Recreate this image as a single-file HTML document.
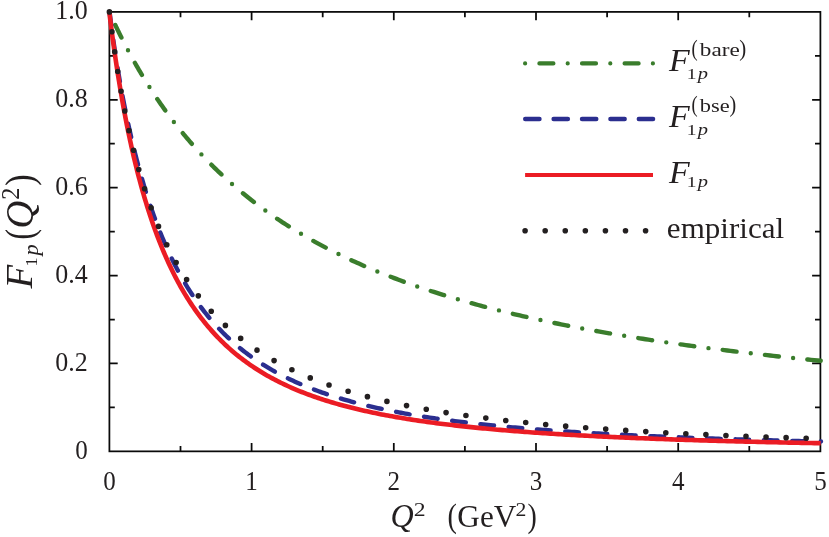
<!DOCTYPE html><html><head><meta charset="utf-8"><title>F1p</title><style>html,body{margin:0;padding:0;background:#fff}svg{display:block;will-change:transform}text{font-family:"Liberation Serif",serif;fill:#231f20}</style></head><body>
<svg width="829" height="537" viewBox="0 0 829 537">
<rect width="829" height="537" fill="#fff"/>
<g stroke="#0a0a0a" stroke-width="1.75" fill="none">
<rect x="109.40" y="11.90" width="711.00" height="439.45"/>
<path d="M180.50 11.90v5.4M180.50 451.35v-5.4M251.60 11.90v8.3M251.60 451.35v-8.3M322.70 11.90v5.4M322.70 451.35v-5.4M393.80 11.90v8.3M393.80 451.35v-8.3M464.90 11.90v5.4M464.90 451.35v-5.4M536.00 11.90v8.3M536.00 451.35v-8.3M607.10 11.90v5.4M607.10 451.35v-5.4M678.20 11.90v8.3M678.20 451.35v-8.3M749.30 11.90v5.4M749.30 451.35v-5.4M109.40 407.41h5.4M820.40 407.41h-5.4M109.40 363.46h8.3M820.40 363.46h-8.3M109.40 319.51h5.4M820.40 319.51h-5.4M109.40 275.57h8.3M820.40 275.57h-8.3M109.40 231.62h5.4M820.40 231.62h-5.4M109.40 187.68h8.3M820.40 187.68h-8.3M109.40 143.73h5.4M820.40 143.73h-5.4M109.40 99.79h8.3M820.40 99.79h-8.3M109.40 55.84h5.4M820.40 55.84h-5.4"/>
</g>
<g fill="none" stroke-linecap="round" stroke-linejoin="round">
<path d="M109.30 12.00 L109.31 12.03 L109.35 12.11 L109.41 12.24 L109.48 12.40 L109.57 12.60 L109.67 12.83 L109.79 13.09 L109.93 13.39 L110.07 13.72 L110.23 14.07 L110.41 14.46 L110.60 14.87 L110.80 15.32 L111.01 15.79 L111.24 16.28 L111.48 16.81 L111.73 17.35 L111.99 17.93 L112.27 18.52 L112.55 19.14 L112.85 19.79 L113.16 20.46 L113.48 21.15 L113.82 21.86 L114.16 22.59 L114.52 23.35 L114.88 24.13 L115.26 24.93 L115.65 25.74 L116.05 26.58 L116.46 27.44 L116.88 28.31 L117.31 29.21 L117.75 30.12 L118.21 31.05 L118.67 32.00 L119.14 32.97 L119.63 33.95 L120.12 34.95 L120.63 35.96 L121.14 36.99 L121.67 38.04 L122.20 39.10 L122.75 40.18 L123.30 41.27 L123.87 42.37 L124.44 43.49 L125.03 44.62 L125.62 45.76 L126.22 46.92 L126.84 48.09 L127.46 49.27 L128.10 50.46 L128.74 51.67 L129.39 52.88 L130.05 54.11 L130.73 55.34 L131.41 56.59 L132.10 57.84 L132.80 59.11 L133.51 60.38 L134.23 61.67 L134.96 62.96 L135.69 64.26 L136.44 65.57 L137.20 66.89 L137.96 68.21 L138.74 69.54 L139.52 70.88 L140.31 72.22 L141.11 73.57 L141.93 74.93 L142.75 76.30 L143.58 77.66 L144.41 79.04 L145.26 80.42 L146.12 81.80 L146.98 83.19 L147.86 84.58 L148.74 85.98 L149.63 87.38 L150.53 88.79 L151.44 90.20 L152.36 91.61 L153.29 93.02 L154.22 94.44 L155.17 95.86 L156.12 97.28 L157.08 98.71 L158.05 100.13 L159.03 101.56 L160.02 102.99 L161.02 104.43 L162.02 105.86 L163.04 107.29 L164.06 108.73 L165.09 110.16 L166.13 111.60 L167.18 113.04 L168.23 114.47 L169.30 115.91 L170.37 117.35 L171.45 118.78 L172.54 120.22 L173.64 121.65 L174.75 123.09 L175.87 124.52 L176.99 125.95 L178.12 127.38 L179.26 128.81 L180.41 130.24 L181.57 131.67 L182.74 133.09 L183.91 134.52 L185.09 135.94 L186.28 137.36 L187.48 138.77 L188.69 140.19 L189.90 141.60 L191.13 143.01 L192.36 144.42 L193.60 145.82 L194.84 147.22 L196.10 148.62 L197.36 150.01 L198.64 151.41 L199.92 152.79 L201.21 154.18 L202.50 155.56 L203.81 156.94 L205.12 158.31 L206.44 159.69 L207.77 161.05 L209.10 162.42 L210.45 163.78 L211.80 165.13 L213.16 166.48 L214.53 167.83 L215.91 169.17 L217.29 170.51 L218.68 171.85 L220.09 173.18 L221.49 174.50 L222.91 175.82 L224.33 177.14 L225.77 178.45 L227.21 179.76 L228.65 181.06 L230.11 182.36 L231.57 183.65 L233.04 184.94 L234.52 186.22 L236.01 187.50 L237.50 188.77 L239.01 190.04 L240.52 191.31 L242.03 192.56 L243.56 193.82 L245.09 195.06 L246.63 196.31 L248.18 197.54 L249.74 198.78 L251.30 200.00 L252.88 201.23 L254.46 202.44 L256.04 203.65 L257.64 204.86 L259.24 206.06 L260.85 207.25 L262.47 208.44 L264.09 209.63 L265.73 210.81 L267.37 211.98 L269.02 213.15 L270.67 214.31 L272.34 215.47 L274.01 216.62 L275.69 217.76 L277.37 218.90 L279.07 220.04 L280.77 221.17 L282.48 222.29 L284.19 223.41 L285.92 224.52 L287.65 225.63 L289.39 226.73 L291.14 227.82 L292.89 228.91 L294.65 230.00 L296.42 231.08 L298.20 232.15 L299.98 233.22 L301.77 234.28 L303.57 235.34 L305.38 236.39 L307.19 237.44 L309.01 238.48 L310.84 239.51 L312.68 240.54 L314.52 241.56 L316.37 242.58 L318.23 243.59 L320.09 244.60 L321.97 245.60 L323.85 246.60 L325.73 247.59 L327.63 248.57 L329.53 249.55 L331.44 250.53 L333.36 251.50 L335.28 252.46 L337.21 253.42 L339.15 254.37 L341.10 255.32 L343.05 256.26 L345.01 257.20 L346.98 258.13 L348.95 259.05 L350.94 259.97 L352.93 260.89 L354.92 261.80 L356.93 262.71 L358.94 263.60 L360.96 264.50 L362.98 265.39 L365.02 266.27 L367.06 267.15 L369.10 268.03 L371.16 268.89 L373.22 269.76 L375.29 270.62 L377.37 271.47 L379.45 272.32 L381.54 273.16 L383.64 274.00 L385.74 274.83 L387.85 275.66 L389.97 276.49 L392.10 277.30 L394.23 278.12 L396.37 278.93 L398.52 279.73 L400.68 280.53 L402.84 281.32 L405.01 282.11 L407.18 282.90 L409.37 283.68 L411.56 284.46 L413.75 285.23 L415.96 285.99 L418.17 286.75 L420.39 287.51 L422.61 288.26 L424.85 289.01 L427.09 289.75 L429.33 290.49 L431.59 291.23 L433.85 291.96 L436.12 292.68 L438.39 293.40 L440.67 294.12 L442.96 294.83 L445.26 295.54 L447.56 296.24 L449.87 296.94 L452.19 297.63 L454.51 298.32 L456.84 299.01 L459.18 299.69 L461.52 300.37 L463.87 301.04 L466.23 301.71 L468.60 302.38 L470.97 303.04 L473.35 303.70 L475.74 304.35 L478.13 305.00 L480.53 305.64 L482.94 306.28 L485.35 306.92 L487.77 307.55 L490.20 308.18 L492.63 308.81 L495.08 309.43 L497.52 310.05 L499.98 310.66 L502.44 311.27 L504.91 311.88 L507.39 312.48 L509.87 313.08 L512.36 313.67 L514.86 314.27 L517.36 314.85 L519.87 315.44 L522.39 316.02 L524.91 316.59 L527.44 317.17 L529.98 317.74 L532.52 318.30 L535.08 318.87 L537.63 319.43 L540.20 319.98 L542.77 320.54 L545.35 321.08 L547.93 321.63 L550.53 322.17 L553.12 322.71 L555.73 323.25 L558.34 323.78 L560.96 324.31 L563.59 324.84 L566.22 325.36 L568.86 325.88 L571.51 326.39 L574.16 326.91 L576.82 327.42 L579.49 327.93 L582.16 328.43 L584.84 328.93 L587.53 329.43 L590.22 329.92 L592.92 330.42 L595.63 330.90 L598.34 331.39 L601.06 331.87 L603.79 332.35 L606.52 332.83 L609.26 333.30 L612.01 333.78 L614.76 334.24 L617.52 334.71 L620.29 335.17 L623.06 335.63 L625.84 336.09 L628.63 336.55 L631.42 337.00 L634.22 337.45 L637.03 337.89 L639.84 338.34 L642.67 338.78 L645.49 339.22 L648.33 339.65 L651.17 340.09 L654.01 340.52 L656.87 340.95 L659.73 341.37 L662.59 341.80 L665.47 342.22 L668.35 342.64 L671.23 343.05 L674.13 343.46 L677.03 343.88 L679.93 344.28 L682.85 344.69 L685.77 345.10 L688.69 345.50 L691.63 345.90 L694.56 346.29 L697.51 346.69 L700.46 347.08 L703.42 347.47 L706.39 347.86 L709.36 348.24 L712.34 348.63 L715.32 349.01 L718.32 349.39 L721.31 349.76 L724.32 350.14 L727.33 350.51 L730.35 350.88 L733.37 351.25 L736.40 351.62 L739.44 351.98 L742.49 352.34 L745.54 352.70 L748.59 353.06 L751.66 353.42 L754.73 353.77 L757.80 354.12 L760.89 354.47 L763.98 354.82 L767.07 355.17 L770.18 355.51 L773.29 355.85 L776.40 356.19 L779.52 356.53 L782.65 356.87 L785.79 357.20 L788.93 357.54 L792.08 357.87 L795.23 358.20 L798.39 358.52 L801.56 358.85 L804.73 359.17 L807.91 359.50 L811.10 359.82 L814.29 360.14 L817.49 360.45 L820.70 360.77" stroke="#3a7d2c" stroke-width="4.4" stroke-dasharray="0 14.3 14 14.3"/>
<path d="M109.60 12.00 L109.61 12.12 L109.65 12.43 L109.71 12.88 L109.78 13.48 L109.87 14.20 L109.97 15.05 L110.09 16.01 L110.23 17.08 L110.37 18.26 L110.53 19.53 L110.71 20.91 L110.90 22.37 L111.10 23.92 L111.31 25.55 L111.54 27.27 L111.78 29.06 L112.03 30.92 L112.29 32.85 L112.57 34.84 L112.85 36.90 L113.15 39.01 L113.46 41.19 L113.78 43.41 L114.12 45.69 L114.46 48.02 L114.82 50.39 L115.18 52.81 L115.56 55.26 L115.95 57.76 L116.35 60.29 L116.76 62.86 L117.18 65.46 L117.61 68.09 L118.05 70.75 L118.51 73.44 L118.97 76.16 L119.44 78.89 L119.93 81.65 L120.42 84.43 L120.93 87.23 L121.44 90.05 L121.97 92.88 L122.50 95.73 L123.05 98.59 L123.60 101.47 L124.17 104.35 L124.74 107.24 L125.33 110.15 L125.92 113.05 L126.52 115.97 L127.14 118.89 L127.76 121.81 L128.40 124.74 L129.04 127.67 L129.69 130.60 L130.35 133.53 L131.03 136.46 L131.71 139.38 L132.40 142.30 L133.10 145.22 L133.81 148.14 L134.53 151.05 L135.26 153.95 L135.99 156.84 L136.74 159.73 L137.50 162.61 L138.26 165.48 L139.04 168.34 L139.82 171.19 L140.61 174.03 L141.41 176.85 L142.23 179.67 L143.05 182.47 L143.88 185.26 L144.71 188.03 L145.56 190.79 L146.42 193.54 L147.28 196.27 L148.16 198.98 L149.04 201.68 L149.93 204.36 L150.83 207.02 L151.74 209.67 L152.66 212.30 L153.59 214.91 L154.52 217.50 L155.47 220.07 L156.42 222.63 L157.38 225.16 L158.35 227.68 L159.33 230.18 L160.32 232.65 L161.32 235.11 L162.32 237.55 L163.34 239.96 L164.36 242.36 L165.39 244.73 L166.43 247.09 L167.48 249.42 L168.53 251.73 L169.60 254.03 L170.67 256.30 L171.75 258.55 L172.84 260.77 L173.94 262.98 L175.05 265.17 L176.17 267.33 L177.29 269.48 L178.42 271.60 L179.56 273.70 L180.71 275.78 L181.87 277.84 L183.04 279.87 L184.21 281.89 L185.39 283.88 L186.58 285.86 L187.78 287.81 L188.99 289.74 L190.20 291.65 L191.43 293.54 L192.66 295.41 L193.90 297.26 L195.14 299.09 L196.40 300.89 L197.66 302.68 L198.94 304.45 L200.22 306.20 L201.51 307.92 L202.80 309.63 L204.11 311.32 L205.42 312.99 L206.74 314.64 L208.07 316.26 L209.40 317.88 L210.75 319.47 L212.10 321.04 L213.46 322.59 L214.83 324.13 L216.21 325.65 L217.59 327.14 L218.98 328.63 L220.39 330.09 L221.79 331.53 L223.21 332.96 L224.63 334.37 L226.07 335.76 L227.51 337.14 L228.95 338.50 L230.41 339.84 L231.87 341.17 L233.34 342.47 L234.82 343.77 L236.31 345.04 L237.80 346.30 L239.31 347.55 L240.82 348.78 L242.33 349.99 L243.86 351.19 L245.39 352.37 L246.93 353.54 L248.48 354.70 L250.04 355.84 L251.60 356.96 L253.18 358.07 L254.76 359.17 L256.34 360.25 L257.94 361.32 L259.54 362.37 L261.15 363.42 L262.77 364.44 L264.39 365.46 L266.03 366.46 L267.67 367.45 L269.32 368.43 L270.97 369.39 L272.64 370.34 L274.31 371.28 L275.99 372.21 L277.67 373.13 L279.37 374.03 L281.07 374.92 L282.78 375.80 L284.49 376.67 L286.22 377.53 L287.95 378.38 L289.69 379.21 L291.44 380.04 L293.19 380.85 L294.95 381.66 L296.72 382.45 L298.50 383.24 L300.28 384.01 L302.07 384.77 L303.87 385.53 L305.68 386.27 L307.49 387.00 L309.31 387.73 L311.14 388.45 L312.98 389.15 L314.82 389.85 L316.67 390.54 L318.53 391.22 L320.39 391.89 L322.27 392.55 L324.15 393.20 L326.03 393.85 L327.93 394.49 L329.83 395.12 L331.74 395.74 L333.66 396.35 L335.58 396.96 L337.51 397.55 L339.45 398.14 L341.40 398.73 L343.35 399.30 L345.31 399.87 L347.28 400.43 L349.25 400.98 L351.24 401.53 L353.23 402.07 L355.22 402.60 L357.23 403.13 L359.24 403.64 L361.26 404.16 L363.28 404.66 L365.32 405.16 L367.36 405.66 L369.40 406.14 L371.46 406.62 L373.52 407.10 L375.59 407.57 L377.67 408.03 L379.75 408.49 L381.84 408.94 L383.94 409.39 L386.04 409.83 L388.15 410.26 L390.27 410.69 L392.40 411.11 L394.53 411.53 L396.67 411.95 L398.82 412.36 L400.98 412.76 L403.14 413.16 L405.31 413.55 L407.48 413.94 L409.67 414.32 L411.86 414.70 L414.05 415.08 L416.26 415.45 L418.47 415.81 L420.69 416.17 L422.91 416.53 L425.15 416.88 L427.39 417.23 L429.63 417.57 L431.89 417.91 L434.15 418.25 L436.42 418.58 L438.69 418.91 L440.97 419.23 L443.26 419.55 L445.56 419.86 L447.86 420.18 L450.17 420.48 L452.49 420.79 L454.81 421.09 L457.14 421.39 L459.48 421.68 L461.82 421.97 L464.17 422.26 L466.53 422.54 L468.90 422.82 L471.27 423.10 L473.65 423.37 L476.04 423.64 L478.43 423.91 L480.83 424.17 L483.24 424.43 L485.65 424.69 L488.07 424.94 L490.50 425.19 L492.93 425.44 L495.38 425.69 L497.82 425.93 L500.28 426.17 L502.74 426.41 L505.21 426.64 L507.69 426.87 L510.17 427.10 L512.66 427.33 L515.16 427.55 L517.66 427.77 L520.17 427.99 L522.69 428.21 L525.21 428.42 L527.74 428.63 L530.28 428.84 L532.82 429.05 L535.38 429.25 L537.93 429.45 L540.50 429.65 L543.07 429.85 L545.65 430.05 L548.23 430.24 L550.83 430.43 L553.42 430.62 L556.03 430.80 L558.64 430.99 L561.26 431.17 L563.89 431.35 L566.52 431.53 L569.16 431.70 L571.81 431.88 L574.46 432.05 L577.12 432.22 L579.79 432.39 L582.46 432.56 L585.14 432.72 L587.83 432.88 L590.52 433.05 L593.22 433.21 L595.93 433.36 L598.64 433.52 L601.36 433.67 L604.09 433.83 L606.82 433.98 L609.56 434.13 L612.31 434.27 L615.06 434.42 L617.82 434.56 L620.59 434.71 L623.36 434.85 L626.14 434.99 L628.93 435.13 L631.72 435.26 L634.52 435.40 L637.33 435.53 L640.14 435.67 L642.97 435.80 L645.79 435.93 L648.63 436.06 L651.47 436.18 L654.31 436.31 L657.17 436.43 L660.03 436.56 L662.89 436.68 L665.77 436.80 L668.65 436.92 L671.53 437.03 L674.43 437.15 L677.33 437.27 L680.23 437.38 L683.15 437.49 L686.07 437.61 L688.99 437.72 L691.93 437.83 L694.86 437.94 L697.81 438.04 L700.76 438.15 L703.72 438.25 L706.69 438.36 L709.66 438.46 L712.64 438.56 L715.62 438.66 L718.62 438.76 L721.61 438.86 L724.62 438.96 L727.63 439.06 L730.65 439.15 L733.67 439.25 L736.70 439.34 L739.74 439.44 L742.79 439.53 L745.84 439.62 L748.89 439.71 L751.96 439.80 L755.03 439.89 L758.10 439.98 L761.19 440.06 L764.28 440.15 L767.37 440.23 L770.48 440.32 L773.59 440.40 L776.70 440.48 L779.82 440.57 L782.95 440.65 L786.09 440.73 L789.23 440.81 L792.38 440.89 L795.53 440.96 L798.69 441.04 L801.86 441.12 L805.03 441.19 L808.21 441.27 L811.40 441.34 L814.59 441.42 L817.79 441.49 L821.00 441.56" stroke="#2b2e8f" stroke-width="4.4" stroke-dasharray="13.7 14.7" stroke-dashoffset="0.4"/>
<path d="M109.30 12.00 L109.31 12.12 L109.35 12.43 L109.41 12.88 L109.48 13.48 L109.57 14.21 L109.67 15.06 L109.79 16.03 L109.93 17.11 L110.07 18.30 L110.23 19.60 L110.41 20.99 L110.60 22.48 L110.80 24.07 L111.01 25.75 L111.24 27.51 L111.48 29.35 L111.73 31.27 L111.99 33.27 L112.27 35.35 L112.55 37.49 L112.85 39.70 L113.16 41.98 L113.48 44.31 L113.82 46.71 L114.16 49.16 L114.52 51.66 L114.88 54.22 L115.26 56.82 L115.65 59.47 L116.05 62.16 L116.46 64.89 L116.88 67.66 L117.31 70.47 L117.75 73.31 L118.21 76.18 L118.67 79.07 L119.14 82.00 L119.63 84.95 L120.12 87.92 L120.63 90.91 L121.14 93.93 L121.67 96.96 L122.20 100.00 L122.75 103.06 L123.30 106.13 L123.87 109.21 L124.44 112.29 L125.03 115.39 L125.62 118.49 L126.22 121.59 L126.84 124.70 L127.46 127.81 L128.10 130.92 L128.74 134.03 L129.39 137.13 L130.05 140.23 L130.73 143.33 L131.41 146.42 L132.10 149.51 L132.80 152.58 L133.51 155.65 L134.23 158.71 L134.96 161.76 L135.69 164.80 L136.44 167.82 L137.20 170.84 L137.96 173.83 L138.74 176.82 L139.52 179.79 L140.31 182.75 L141.11 185.68 L141.93 188.61 L142.75 191.51 L143.58 194.40 L144.41 197.27 L145.26 200.12 L146.12 202.95 L146.98 205.77 L147.86 208.56 L148.74 211.33 L149.63 214.09 L150.53 216.82 L151.44 219.53 L152.36 222.22 L153.29 224.89 L154.22 227.53 L155.17 230.16 L156.12 232.76 L157.08 235.34 L158.05 237.90 L159.03 240.43 L160.02 242.95 L161.02 245.43 L162.02 247.90 L163.04 250.34 L164.06 252.76 L165.09 255.16 L166.13 257.53 L167.18 259.88 L168.23 262.21 L169.30 264.51 L170.37 266.79 L171.45 269.05 L172.54 271.28 L173.64 273.49 L174.75 275.68 L175.87 277.84 L176.99 279.98 L178.12 282.09 L179.26 284.19 L180.41 286.26 L181.57 288.31 L182.74 290.33 L183.91 292.33 L185.09 294.31 L186.28 296.27 L187.48 298.20 L188.69 300.11 L189.90 302.00 L191.13 303.87 L192.36 305.72 L193.60 307.54 L194.84 309.34 L196.10 311.13 L197.36 312.89 L198.64 314.62 L199.92 316.34 L201.21 318.04 L202.50 319.71 L203.81 321.37 L205.12 323.00 L206.44 324.62 L207.77 326.21 L209.10 327.79 L210.45 329.34 L211.80 330.88 L213.16 332.39 L214.53 333.89 L215.91 335.37 L217.29 336.83 L218.68 338.27 L220.09 339.69 L221.49 341.09 L222.91 342.48 L224.33 343.85 L225.77 345.20 L227.21 346.53 L228.65 347.85 L230.11 349.14 L231.57 350.42 L233.04 351.69 L234.52 352.94 L236.01 354.17 L237.50 355.38 L239.01 356.58 L240.52 357.77 L242.03 358.93 L243.56 360.09 L245.09 361.22 L246.63 362.34 L248.18 363.45 L249.74 364.54 L251.30 365.62 L252.88 366.68 L254.46 367.73 L256.04 368.77 L257.64 369.79 L259.24 370.79 L260.85 371.79 L262.47 372.77 L264.09 373.73 L265.73 374.69 L267.37 375.63 L269.02 376.56 L270.67 377.47 L272.34 378.38 L274.01 379.27 L275.69 380.15 L277.37 381.01 L279.07 381.87 L280.77 382.71 L282.48 383.55 L284.19 384.37 L285.92 385.18 L287.65 385.98 L289.39 386.77 L291.14 387.54 L292.89 388.31 L294.65 389.07 L296.42 389.81 L298.20 390.55 L299.98 391.28 L301.77 391.99 L303.57 392.70 L305.38 393.40 L307.19 394.08 L309.01 394.76 L310.84 395.43 L312.68 396.09 L314.52 396.74 L316.37 397.39 L318.23 398.02 L320.09 398.64 L321.97 399.26 L323.85 399.87 L325.73 400.47 L327.63 401.06 L329.53 401.65 L331.44 402.22 L333.36 402.79 L335.28 403.35 L337.21 403.91 L339.15 404.45 L341.10 404.99 L343.05 405.52 L345.01 406.05 L346.98 406.56 L348.95 407.07 L350.94 407.58 L352.93 408.07 L354.92 408.56 L356.93 409.05 L358.94 409.53 L360.96 410.00 L362.98 410.46 L365.02 410.92 L367.06 411.37 L369.10 411.82 L371.16 412.26 L373.22 412.69 L375.29 413.12 L377.37 413.55 L379.45 413.96 L381.54 414.38 L383.64 414.78 L385.74 415.19 L387.85 415.58 L389.97 415.97 L392.10 416.36 L394.23 416.74 L396.37 417.12 L398.52 417.49 L400.68 417.85 L402.84 418.22 L405.01 418.57 L407.18 418.92 L409.37 419.27 L411.56 419.62 L413.75 419.95 L415.96 420.29 L418.17 420.62 L420.39 420.94 L422.61 421.27 L424.85 421.58 L427.09 421.90 L429.33 422.21 L431.59 422.51 L433.85 422.81 L436.12 423.11 L438.39 423.41 L440.67 423.70 L442.96 423.98 L445.26 424.27 L447.56 424.55 L449.87 424.82 L452.19 425.09 L454.51 425.36 L456.84 425.63 L459.18 425.89 L461.52 426.15 L463.87 426.41 L466.23 426.66 L468.60 426.91 L470.97 427.16 L473.35 427.40 L475.74 427.64 L478.13 427.88 L480.53 428.11 L482.94 428.34 L485.35 428.57 L487.77 428.80 L490.20 429.02 L492.63 429.24 L495.08 429.46 L497.52 429.68 L499.98 429.89 L502.44 430.10 L504.91 430.30 L507.39 430.51 L509.87 430.71 L512.36 430.91 L514.86 431.11 L517.36 431.30 L519.87 431.50 L522.39 431.69 L524.91 431.88 L527.44 432.06 L529.98 432.25 L532.52 432.43 L535.08 432.61 L537.63 432.78 L540.20 432.96 L542.77 433.13 L545.35 433.30 L547.93 433.47 L550.53 433.64 L553.12 433.81 L555.73 433.97 L558.34 434.13 L560.96 434.29 L563.59 434.45 L566.22 434.60 L568.86 434.76 L571.51 434.91 L574.16 435.06 L576.82 435.21 L579.49 435.35 L582.16 435.50 L584.84 435.64 L587.53 435.79 L590.22 435.93 L592.92 436.06 L595.63 436.20 L598.34 436.34 L601.06 436.47 L603.79 436.60 L606.52 436.73 L609.26 436.86 L612.01 436.99 L614.76 437.12 L617.52 437.24 L620.29 437.37 L623.06 437.49 L625.84 437.61 L628.63 437.73 L631.42 437.85 L634.22 437.97 L637.03 438.08 L639.84 438.20 L642.67 438.31 L645.49 438.42 L648.33 438.53 L651.17 438.64 L654.01 438.75 L656.87 438.86 L659.73 438.96 L662.59 439.07 L665.47 439.17 L668.35 439.27 L671.23 439.38 L674.13 439.48 L677.03 439.58 L679.93 439.67 L682.85 439.77 L685.77 439.87 L688.69 439.96 L691.63 440.06 L694.56 440.15 L697.51 440.24 L700.46 440.33 L703.42 440.42 L706.39 440.51 L709.36 440.60 L712.34 440.69 L715.32 440.77 L718.32 440.86 L721.31 440.94 L724.32 441.03 L727.33 441.11 L730.35 441.19 L733.37 441.27 L736.40 441.35 L739.44 441.43 L742.49 441.51 L745.54 441.59 L748.59 441.66 L751.66 441.74 L754.73 441.82 L757.80 441.89 L760.89 441.96 L763.98 442.04 L767.07 442.11 L770.18 442.18 L773.29 442.25 L776.40 442.32 L779.52 442.39 L782.65 442.46 L785.79 442.53 L788.93 442.60 L792.08 442.66 L795.23 442.73 L798.39 442.79 L801.56 442.86 L804.73 442.92 L807.91 442.99 L811.10 443.05 L814.29 443.11 L817.49 443.17 L820.70 443.23" stroke="#eb1c24" stroke-width="4.6" stroke-linecap="butt"/>
<path d="M109.40 11.90 L109.41 12.02 L109.45 12.33 L109.51 12.78 L109.58 13.38 L109.67 14.11 L109.77 14.96 L109.89 15.93 L110.02 17.01 L110.17 18.20 L110.33 19.49 L110.51 20.89 L110.70 22.37 L110.90 23.95 L111.11 25.62 L111.34 27.37 L111.58 29.20 L111.83 31.10 L112.09 33.08 L112.36 35.13 L112.65 37.25 L112.95 39.43 L113.26 41.67 L113.58 43.97 L113.91 46.33 L114.26 48.73 L114.61 51.19 L114.98 53.69 L115.36 56.23 L115.75 58.81 L116.14 61.44 L116.55 64.09 L116.98 66.78 L117.41 69.50 L117.85 72.25 L118.30 75.02 L118.76 77.82 L119.24 80.64 L119.72 83.47 L120.22 86.33 L120.72 89.20 L121.23 92.08 L121.76 94.97 L122.29 97.88 L122.84 100.79 L123.39 103.71 L123.96 106.63 L124.53 109.56 L125.12 112.48 L125.71 115.41 L126.31 118.34 L126.93 121.27 L127.55 124.19 L128.19 127.11 L128.83 130.02 L129.48 132.92 L130.14 135.82 L130.81 138.71 L131.49 141.59 L132.19 144.47 L132.89 147.32 L133.59 150.17 L134.31 153.01 L135.04 155.83 L135.78 158.64 L136.52 161.43 L137.28 164.21 L138.05 166.98 L138.82 169.73 L139.60 172.46 L140.40 175.17 L141.20 177.87 L142.01 180.55 L142.83 183.22 L143.66 185.86 L144.49 188.49 L145.34 191.10 L146.20 193.68 L147.06 196.25 L147.93 198.80 L148.82 201.33 L149.71 203.85 L150.61 206.34 L151.52 208.81 L152.43 211.26 L153.36 213.69 L154.30 216.10 L155.24 218.49 L156.19 220.87 L157.16 223.22 L158.13 225.55 L159.10 227.86 L160.09 230.14 L161.09 232.41 L162.09 234.66 L163.11 236.89 L164.13 239.10 L165.16 241.29 L166.20 243.45 L167.24 245.60 L168.30 247.73 L169.36 249.84 L170.44 251.92 L171.52 253.99 L172.61 256.04 L173.71 258.07 L174.81 260.08 L175.93 262.07 L177.05 264.04 L178.18 265.99 L179.32 267.92 L180.47 269.83 L181.63 271.73 L182.79 273.60 L183.97 275.46 L185.15 277.30 L186.34 279.11 L187.54 280.92 L188.74 282.70 L189.96 284.46 L191.18 286.21 L192.41 287.94 L193.65 289.65 L194.90 291.34 L196.15 293.02 L197.41 294.68 L198.69 296.32 L199.97 297.95 L201.25 299.56 L202.55 301.15 L203.85 302.72 L205.16 304.28 L206.48 305.82 L207.81 307.35 L209.15 308.86 L210.49 310.36 L211.84 311.83 L213.20 313.30 L214.57 314.75 L215.95 316.18 L217.33 317.59 L218.72 319.00 L220.12 320.38 L221.53 321.76 L222.95 323.11 L224.37 324.46 L225.80 325.79 L227.24 327.10 L228.69 328.40 L230.14 329.69 L231.60 330.96 L233.07 332.22 L234.55 333.46 L236.04 334.70 L237.53 335.91 L239.03 337.12 L240.54 338.31 L242.06 339.49 L243.58 340.66 L245.12 341.81 L246.66 342.95 L248.20 344.08 L249.76 345.20 L251.32 346.30 L252.90 347.39 L254.47 348.47 L256.06 349.54 L257.65 350.60 L259.26 351.64 L260.87 352.68 L262.48 353.70 L264.11 354.71 L265.74 355.71 L267.38 356.70 L269.03 357.68 L270.68 358.64 L272.35 359.60 L274.02 360.55 L275.69 361.48 L277.38 362.41 L279.07 363.32 L280.77 364.22 L282.48 365.12 L284.20 366.00 L285.92 366.88 L287.65 367.74 L289.39 368.60 L291.13 369.44 L292.89 370.28 L294.65 371.11 L296.41 371.92 L298.19 372.73 L299.97 373.53 L301.76 374.32 L303.56 375.11 L305.37 375.88 L307.18 376.64 L309.00 377.40 L310.83 378.15 L312.66 378.89 L314.50 379.62 L316.35 380.34 L318.21 381.05 L320.07 381.76 L321.95 382.46 L323.82 383.15 L325.71 383.83 L327.61 384.51 L329.51 385.18 L331.41 385.84 L333.33 386.49 L335.25 387.13 L337.18 387.77 L339.12 388.40 L341.07 389.03 L343.02 389.65 L344.98 390.26 L346.95 390.86 L348.92 391.46 L350.90 392.05 L352.89 392.63 L354.88 393.21 L356.89 393.78 L358.90 394.34 L360.92 394.90 L362.94 395.45 L364.97 396.00 L367.01 396.54 L369.06 397.07 L371.11 397.60 L373.17 398.12 L375.24 398.63 L377.31 399.14 L379.40 399.65 L381.49 400.15 L383.58 400.64 L385.69 401.13 L387.80 401.61 L389.92 402.09 L392.04 402.56 L394.17 403.03 L396.31 403.49 L398.46 403.94 L400.61 404.39 L402.77 404.84 L404.94 405.28 L407.12 405.72 L409.30 406.15 L411.49 406.58 L413.68 407.00 L415.89 407.42 L418.10 407.83 L420.31 408.24 L422.54 408.64 L424.77 409.04 L427.01 409.44 L429.25 409.83 L431.51 410.21 L433.76 410.59 L436.03 410.97 L438.30 411.35 L440.59 411.72 L442.87 412.08 L445.17 412.44 L447.47 412.80 L449.78 413.16 L452.09 413.51 L454.42 413.85 L456.74 414.20 L459.08 414.54 L461.42 414.87 L463.78 415.20 L466.13 415.53 L468.50 415.86 L470.87 416.18 L473.25 416.49 L475.63 416.81 L478.02 417.12 L480.42 417.43 L482.83 417.73 L485.24 418.03 L487.66 418.33 L490.09 418.63 L492.52 418.92 L494.96 419.21 L497.41 419.49 L499.86 419.78 L502.32 420.05 L504.79 420.33 L507.26 420.61 L509.75 420.88 L512.23 421.14 L514.73 421.41 L517.23 421.67 L519.74 421.93 L522.26 422.19 L524.78 422.44 L527.31 422.69 L529.84 422.94 L532.39 423.19 L534.94 423.43 L537.49 423.68 L540.06 423.91 L542.63 424.15 L545.20 424.38 L547.79 424.62 L550.38 424.85 L552.98 425.07 L555.58 425.30 L558.19 425.52 L560.81 425.74 L563.43 425.96 L566.06 426.17 L568.70 426.39 L571.35 426.60 L574.00 426.81 L576.66 427.01 L579.32 427.22 L581.99 427.42 L584.67 427.62 L587.36 427.82 L590.05 428.02 L592.75 428.21 L595.45 428.40 L598.16 428.60 L600.88 428.78 L603.61 428.97 L606.34 429.16 L609.08 429.34 L611.82 429.52 L614.58 429.70 L617.34 429.88 L620.10 430.06 L622.87 430.23 L625.65 430.40 L628.44 430.57 L631.23 430.74 L634.03 430.91 L636.83 431.08 L639.65 431.24 L642.47 431.41 L645.29 431.57 L648.12 431.73 L650.96 431.88 L653.81 432.04 L656.66 432.20 L659.52 432.35 L662.38 432.50 L665.25 432.65 L668.13 432.80 L671.02 432.95 L673.91 433.10 L676.81 433.24 L679.71 433.39 L682.62 433.53 L685.54 433.67 L688.47 433.81 L691.40 433.95 L694.34 434.08 L697.28 434.22 L700.23 434.35 L703.19 434.49 L706.15 434.62 L709.12 434.75 L712.10 434.88 L715.08 435.01 L718.07 435.14 L721.07 435.26 L724.07 435.39 L727.08 435.51 L730.10 435.63 L733.12 435.75 L736.15 435.87 L739.19 435.99 L742.23 436.11 L745.28 436.23 L748.33 436.34 L751.40 436.46 L754.47 436.57 L757.54 436.68 L760.62 436.80 L763.71 436.91 L766.80 437.02 L769.91 437.12 L773.01 437.23 L776.13 437.34 L779.25 437.44 L782.37 437.55 L785.51 437.65 L788.65 437.76 L791.79 437.86 L794.95 437.96 L798.11 438.06 L801.27 438.16 L804.44 438.26 L807.62 438.35 L810.81 438.45 L814.00 438.55 L817.20 438.64 L820.40 438.73" stroke="#231f20" stroke-width="5.6" stroke-dasharray="0 20.068"/>
</g>
<g font-size="26.5">
<text transform="translate(87.8,458.8) scale(0.945,1)" text-anchor="end">0</text>
<text transform="translate(87.8,370.9) scale(0.98,1)" text-anchor="end">0.2</text>
<text transform="translate(87.8,283.0) scale(0.98,1)" text-anchor="end">0.4</text>
<text transform="translate(87.8,195.1) scale(0.98,1)" text-anchor="end">0.6</text>
<text transform="translate(87.8,107.2) scale(0.98,1)" text-anchor="end">0.8</text>
<text transform="translate(87.8,19.3) scale(0.98,1)" text-anchor="end">1.0</text>
<text transform="translate(109.4,490.0) scale(0.945,1)" text-anchor="middle">0</text>
<text transform="translate(251.6,490.0) scale(0.945,1)" text-anchor="middle">1</text>
<text transform="translate(393.8,490.0) scale(0.945,1)" text-anchor="middle">2</text>
<text transform="translate(536.0,490.0) scale(0.945,1)" text-anchor="middle">3</text>
<text transform="translate(678.2,490.0) scale(0.945,1)" text-anchor="middle">4</text>
<text transform="translate(820.4,490.0) scale(0.945,1)" text-anchor="middle">5</text>
</g>
<text transform="matrix(0.3212 0 0 0.3273 390.43 527.28)" font-size="100" font-style="italic">Q</text>
<text transform="matrix(0.2375 0 0 0.1902 413.83 515.60)" font-size="100">2</text>
<text transform="matrix(0.2824 0 0 0.3359 447.43 527.46)" font-size="100">(</text>
<text transform="matrix(0.3124 0 0 0.3247 457.35 526.81)" font-size="100">GeV</text>
<text transform="matrix(0.2175 0 0 0.1932 515.52 515.50)" font-size="100">2</text>
<text transform="matrix(0.2796 0 0 0.3348 527.39 527.39)" font-size="100">)</text>
<g transform="translate(32.1,288.7) rotate(-90)">
<text transform="matrix(0.3872 0 0 0.3847 0.19 0.00)" font-size="100" font-style="italic">F</text>
<text transform="matrix(0.1872 0 0 0.1697 21.96 4.50)" font-size="100">1</text>
<text transform="matrix(0.2237 0 0 0.2007 33.09 5.43)" font-size="100" font-style="italic">p</text>
<text transform="matrix(0.3255 0 0 0.4088 48.84 0.41)" font-size="100">(</text>
<text transform="matrix(0.3892 0 0 0.3976 59.96 0.54)" font-size="100" font-style="italic">Q</text>
<text transform="matrix(0.2425 0 0 0.2596 89.01 -13.20)" font-size="100">2</text>
<text transform="matrix(0.3417 0 0 0.4055 102.89 0.48)" font-size="100">)</text>
</g>
<g fill="none" stroke-linecap="round">
<path d="M525.1 63.4H653.2" stroke="#3a7d2c" stroke-width="4.2" stroke-dasharray="0 14.3 14 14.3"/>
<path d="M525.2 119.0H654" stroke="#2b2e8f" stroke-width="4.4" stroke-dasharray="14.3 14.1"/>
<path d="M525.1 174.9H653" stroke="#eb1c24" stroke-width="4" stroke-linecap="butt"/>
<path d="M525.1 230.7H650" stroke="#231f20" stroke-width="5.6" stroke-dasharray="0 20.08"/>
</g>
<text transform="matrix(0.3392 0 0 0.3145 669.07 71.00)" font-size="100" font-style="italic">F</text>
<text transform="matrix(0.1957 0 0 0.1485 686.69 78.90)" font-size="100">1</text>
<text transform="matrix(0.2047 0 0 0.1597 697.78 79.31)" font-size="100" font-style="italic">p</text>
<text transform="matrix(0.1843 0 0 0.2221 691.57 55.68)" font-size="100">(</text>
<text transform="matrix(0.2320 0 0 0.1830 699.80 55.82)" font-size="100">bare</text>
<text transform="matrix(0.2097 0 0 0.2221 739.32 55.68)" font-size="100">)</text>
<text transform="matrix(0.3392 0 0 0.3145 669.07 127.00)" font-size="100" font-style="italic">F</text>
<text transform="matrix(0.1957 0 0 0.1485 686.69 134.90)" font-size="100">1</text>
<text transform="matrix(0.2047 0 0 0.1597 697.78 135.31)" font-size="100" font-style="italic">p</text>
<text transform="matrix(0.1843 0 0 0.2221 691.57 111.68)" font-size="100">(</text>
<text transform="matrix(0.2243 0 0 0.1830 699.80 111.82)" font-size="100">bse</text>
<text transform="matrix(0.2019 0 0 0.2221 729.54 111.68)" font-size="100">)</text>
<text transform="matrix(0.3392 0 0 0.3145 669.07 183.00)" font-size="100" font-style="italic">F</text>
<text transform="matrix(0.1957 0 0 0.1515 686.69 186.80)" font-size="100">1</text>
<text transform="matrix(0.2047 0 0 0.1641 697.78 187.41)" font-size="100" font-style="italic">p</text>
<text transform="matrix(0.3104 0 0 0.2909 666.86 237.62)" font-size="100">empirical</text>
</svg></body></html>
